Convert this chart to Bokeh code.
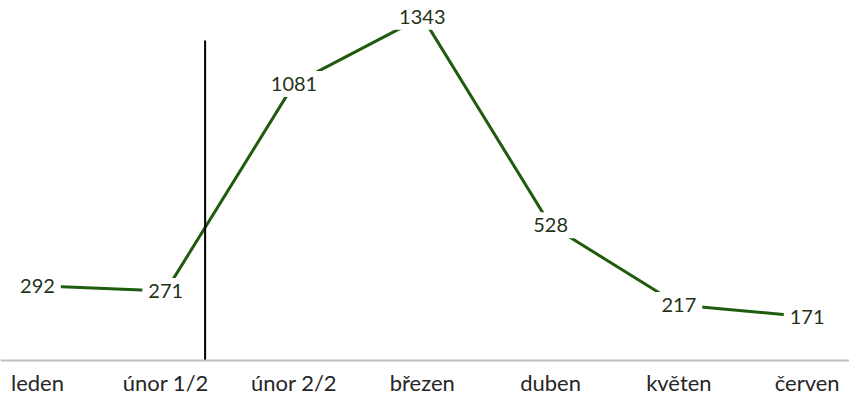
from bokeh.plotting import figure
from bokeh.models import ColumnDataSource, Range1d, Span
from bokeh.core.properties import value
from bokeh.embed import file_html
from bokeh.resources import INLINE

categories = ["leden", "únor 1/2", "únor 2/2", "březen", "duben", "květen", "červen"]
values = [292, 271, 1081, 1343, 528, 217, 171]

divider_x = 1.307
divider_top = 1251
cat_label_y = -141

xs = list(range(len(categories)))
src = ColumnDataSource(dict(x=xs, y=values, lbl=[str(v) for v in values]))
cat_src = ColumnDataSource(dict(x=xs, y=[cat_label_y] * len(xs), lbl=categories))

p = figure(width=849, height=397, output_backend="svg", toolbar_location=None,
           x_range=Range1d(-0.288, 6.33), y_range=Range1d(-145, 1407),
           min_border_left=0, min_border_right=0, min_border_top=0, min_border_bottom=0)
p.outline_line_color = None
p.xgrid.visible = False
p.ygrid.visible = False
p.xaxis.visible = False
p.yaxis.visible = False

# baseline (category axis line at value 0)
p.add_layout(Span(location=0, dimension="width", line_color="#bfbfbf", line_width=2))

p.line("x", "y", source=src, line_color="#1f5c0f", line_width=3)
p.segment(x0=[divider_x], y0=[0], x1=[divider_x], y1=[divider_top], line_color="black", line_width=2)

p.text(x="x", y="y", text="lbl", source=src, text_align="center", text_baseline="middle",
       text_font=value("Lato"), text_font_size="20px", text_color="#1f3318",
       background_fill_color="white", padding=6)

p.text(x="x", y="y", text="lbl", source=cat_src, text_align="center", text_baseline="bottom",
       text_font=value("Lato"), text_font_size="22px", text_color="#262626")

open("out.html", "w").write(file_html(p, INLINE))
